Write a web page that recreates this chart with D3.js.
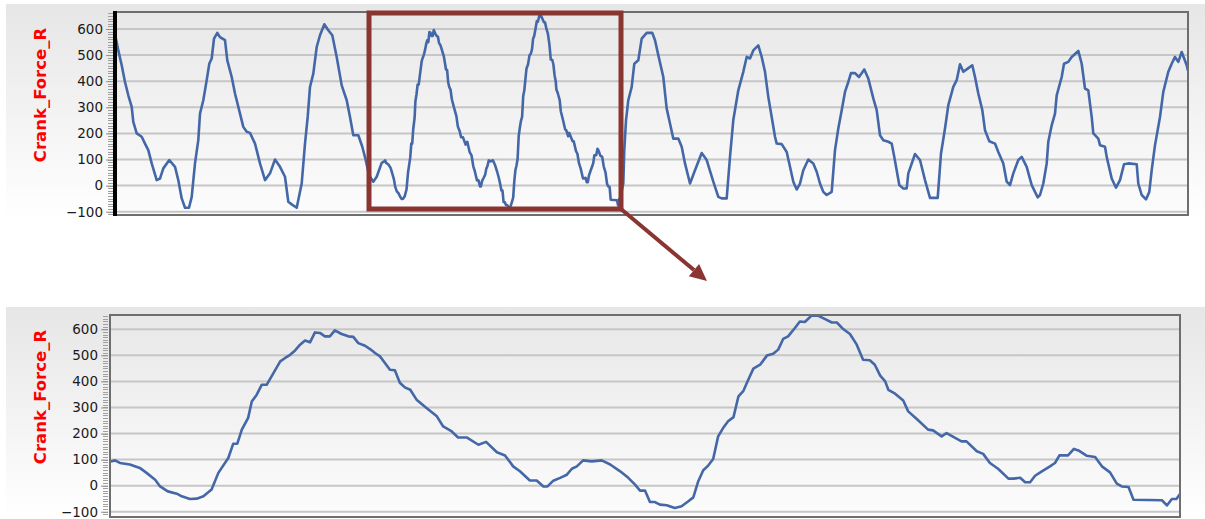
<!DOCTYPE html>
<html lang="en">
<head>
    <meta charset="UTF-8">
    <title>Crank_Force_R</title>
    <style>
        body { margin: 0; background: #fff; }
        svg { display: block; }
    </style>
</head>
<body>
    <svg width="1205" height="519"></svg>
    <script src="https://d3js.org/d3.v7.min.js"></script>
    <script>

        // sample positions / force values (outside the zoomed window)
        let topTime = [1, 3.3, 6.7, 10, 13.3, 16.7, 18.3, 21.7, 26.7, 30, 33.3, 36.7, 41.7, 45, 48.3, 54.3, 60, 63.3, 66.7, 70, 74, 76.7, 80, 83.3, 85, 88.3, 91.7, 94.3, 96.7, 99, 102.3, 105, 110, 112.3, 116.7, 120, 125, 128.3, 131.7, 135, 140, 145, 150, 155, 160, 165, 170, 173.3, 176.7, 181.7, 186.7, 190, 192.7, 195, 198.3, 201.7, 205, 209.3, 213.3, 217.3, 221.7, 226.7, 231.7, 235, 238.3, 243.3, 247.3, 250.7, 254, 258.3, 261.7, 266.7,
            508.3, 509.3, 511, 513.3, 516.7, 519.3, 523.3, 526.7, 531.7, 537.3, 540, 543.3, 548.3, 551.7, 555, 558.3, 563.3, 566.7, 570, 575, 580, 586.7, 591.7, 598.3, 603.3, 606.7, 611.7, 615, 618.3, 623.3, 628.3, 631.7, 635, 638.3, 643.3, 646.7, 650, 653.3, 656.7, 660, 661.7, 666.7, 671.7, 675, 678.3, 681.7, 685, 688.3, 693.3, 698.3, 701.7, 705, 708.3, 711.7, 716.7, 720, 723.3, 726.7, 730, 733.3, 736, 740, 744, 749.3, 753.3, 758.3, 761.7, 765, 768.3, 773.3, 776.7, 779.3, 784.3, 788.3, 791.7, 793.3, 800, 805, 810, 815, 822.7, 826, 830, 833.3, 838.3, 841.7, 845, 848.3, 852.7, 857.3, 860, 863.3, 867.3, 870, 874.3, 880, 883.3, 888.3, 891.7, 895, 898.3, 903.3, 906.7, 911.7, 916.7, 922.7, 925, 928.3, 931.7, 933.3, 936.7, 940, 941.7, 946.7, 949, 953.3, 956.7, 963.3, 966.7, 970, 973.3, 976.7, 978.3, 983.3, 985, 990, 991.7, 996.7, 1001, 1005, 1009, 1013.3, 1021.7, 1023.3, 1026.7, 1031, 1034.3, 1036.7, 1040, 1045, 1048.3, 1053.3, 1056.7, 1060, 1063.3, 1066.7, 1071.7, 1073];
        let topForce = [563, 518, 461, 397, 346, 302, 244, 200, 187, 161, 136, 85, 21, 27, 66, 98, 72, 21, -49, -85, -85, -43, 85, 174, 276, 327, 404, 467, 487, 563, 585, 569, 557, 480, 416, 353, 276, 225, 206, 202, 161, 85, 21, 47, 100, 72, 34, -62, -72, -85, 8, 161, 263, 378, 429, 531, 576, 618, 595, 576, 493, 384, 327, 263, 193, 193, 149, 98, 40, 15, 34, 87,
            8, 136, 250, 327, 378, 467, 480, 563, 585, 585, 557, 500, 416, 295, 238, 180, 180, 149, 85, 8, 59, 125, 98, 15, -43, -49, -49, 110, 251, 365, 436, 493, 487, 518, 537, 493, 436, 340, 263, 187, 161, 159, 129, 72, 15, -15, 8, 59, 100, 85, 53, 8, -24, -36, -24, 136, 219, 289, 359, 397, 431, 431, 416, 445, 410, 334, 289, 193, 174, 168, 161, 110, 2, -11, -11, 47, 121, 98, 21, -47, -47, 123, 219, 308, 378, 404, 465, 436, 448, 461, 416, 353, 289, 212, 170, 161, 129, 85, 15, 2, 47, 98, 110, 72, 2, -45, -36, 8, 85, 168, 231, 276, 346, 416, 467, 474, 493, 516, 467, 372, 365, 263, 200, 180, 155, 149, 110, 27, -8, 21, 82, 85, 82, 8, -36, -53, -24, 59, 155, 263, 359, 436, 467, 493, 474, 512, 461, 440];

        // detailed window (lower chart), same sample units
        let zoomTime = [269.2, 270.1, 271.2, 273.4, 275.6, 277.1, 279.0, 280.1, 281.8, 283.8, 284.9, 286.7, 288.2, 289.7, 291.5, 293.0, 295.2, 296.3, 297.2, 298.2, 299.6, 300.4, 301.5, 302.6, 303.7, 305.2, 306.7, 307.8, 308.9, 310.0, 311.1, 312.2, 313.3, 314.4, 315.5, 316.6, 317.7, 318.8, 320.3, 321.8, 322.9, 324.0, 325.5, 326.6, 327.7, 328.8, 329.9, 331.0, 332.1, 333.2, 334.3, 335.5, 336.9, 339.1, 341.4, 342.8, 344.7, 346.1, 348.0, 350.6, 352.3, 354.7, 356.5, 358.3, 359.8, 362.0, 363.5, 365.0, 365.9, 367.2, 368.7, 370.2, 371.3, 372.4, 373.8, 375.7, 377.9, 379.8, 382.0, 383.8, 385.3, 386.4, 387.5, 388.6, 389.7, 390.8, 392.3, 394.1, 395.6, 397.1, 398.2, 399.3, 400.4, 401.5, 402.6, 403.7, 404.8, 405.9, 407.1, 408.2, 409.3, 410.4, 411.5, 413.0, 414.5, 415.9, 417.0, 418.1, 419.2, 420.7, 421.8, 422.9, 424.4, 425.9, 427.4, 428.9, 430.0, 431.4, 432.9, 434.4, 435.8, 437.3, 438.4, 439.6, 440.7, 441.4, 442.9, 444.7, 445.8, 447.7, 450.2, 451.3, 453.2, 454.3, 456.2, 457.6, 458.7, 461.0, 462.4, 463.9, 465.7, 468.0, 469.1, 470.6, 471.7, 472.8, 473.9, 475.4, 477.2, 478.3, 479.3, 481.2, 482.5, 483.5, 485.3, 487.2, 488.7, 490.5, 492.0, 493.1, 494.6, 495.7, 502.0, 503.1, 504.2, 505.2, 506.0];
        let zoomForce = [93, 97, 87, 81, 68, 49, 23, -3, -22, -31, -41, -51, -50, -41, -15, 49, 106, 161, 161, 215, 260, 323, 349, 387, 387, 432, 477, 490, 502, 519, 541, 557, 550, 588, 586, 573, 573, 596, 582, 573, 571, 547, 537, 524, 509, 496, 471, 445, 443, 395, 377, 368, 330, 298, 266, 227, 208, 185, 185, 157, 168, 128, 116, 74, 55, 20, 20, -3, -3, 19, 30, 42, 65, 74, 97, 93, 97, 81, 55, 30, 4, -19, -19, -63, -63, -73, -75, -86, -79, -60, -45, 17, 59, 77, 102, 189, 221, 247, 263, 343, 364, 407, 449, 464, 499, 506, 522, 563, 573, 605, 630, 628, 653, 652, 639, 626, 626, 601, 582, 541, 483, 481, 464, 422, 400, 368, 353, 327, 285, 256, 215, 212, 189, 202, 183, 170, 170, 132, 122, 87, 65, 27, 27, 30, 13, 13, 38, 55, 74, 87, 116, 116, 141, 135, 115, 110, 74, 51, 8, -3, -5, -54, -56, -76, -51, -51, -32];

        let yTicks = [-100, 0, 100, 200, 300, 400, 500, 600];
        let yLabel = "Crank_Force_R";
        let fullRange = [0, 1073];
        let zoomRange = [269, 506];
        let boxRange = [254, 506];

        let svg = d3.select("svg");
        let defs = svg.append("defs");

        let g1 = defs.append("linearGradient").attr("id", "panelGrad").attr("x1", 0).attr("y1", 0).attr("x2", 0).attr("y2", 1);
        g1.append("stop").attr("offset", "0%").attr("stop-color", "#e6e6e6");
        g1.append("stop").attr("offset", "100%").attr("stop-color", "#ffffff");
        let g2 = defs.append("linearGradient").attr("id", "plotGrad").attr("x1", 0).attr("y1", 0).attr("x2", 0).attr("y2", 1);
        g2.append("stop").attr("offset", "0%").attr("stop-color", "#e8e8e8");
        g2.append("stop").attr("offset", "100%").attr("stop-color", "#fcfcfc");

        let overviewSeries = topTime.map((t, i) => ({ t: t, v: topForce[i] }))
            .concat(zoomTime.map((t, i) => ({ t: t, v: zoomForce[i] })))
            .sort((a, b) => a.t - b.t);
        let zoomSeries = zoomTime.map((t, i) => ({ t: t, v: zoomForce[i] }));

        function panel(opt) {
            let x = d3.scaleLinear().domain(opt.domain).range([opt.left, opt.right]);
            let y = d3.scaleLinear().domain([-100, 600]).range([opt.y0, opt.y600]);

            svg.append("rect")
                .attr("x", 6).attr("y", opt.panelTop)
                .attr("width", 1199).attr("height", opt.panelBottom - opt.panelTop)
                .attr("fill", "url(#panelGrad)");

            svg.append("rect")
                .attr("x", opt.left).attr("y", opt.top)
                .attr("width", opt.right - opt.left).attr("height", opt.bottom - opt.top)
                .attr("fill", "url(#plotGrad)");

            // grid
            svg.append("g").selectAll("line").data(yTicks).join("line")
                .attr("x1", opt.left).attr("x2", opt.right)
                .attr("y1", d => y(d)).attr("y2", d => y(d))
                .attr("stroke", "#c6c6c6").attr("stroke-width", 2);

            // minor ticks
            let minor = d3.range(-110, 661, 10).filter(v => y(v) > opt.top && y(v) < opt.bottom);
            svg.append("g").selectAll("line").data(minor).join("line")
                .attr("x1", opt.left - 7).attr("x2", opt.left - 2)
                .attr("y1", d => Math.round(y(d)) + 0.5).attr("y2", d => Math.round(y(d)) + 0.5)
                .attr("stroke", "#a0a0a0").attr("stroke-width", 1);

            let axis = svg.append("g").attr("transform", `translate(${opt.left - 2},0)`)
                .call(d3.axisLeft(y).tickValues(yTicks).tickSize(7).tickPadding(3));
            axis.select(".domain").remove();
            axis.selectAll(".tick line").attr("stroke", "#909090");
            axis.selectAll("text")
                .attr("font-family", "DejaVu Sans, Verdana, sans-serif")
                .attr("font-size", 13.5).attr("fill", "#1a1a1a");

            let clipId = "clip" + opt.top;
            defs.append("clipPath").attr("id", clipId).append("rect")
                .attr("x", opt.left).attr("y", opt.top)
                .attr("width", opt.right - opt.left).attr("height", opt.bottom - opt.top);

            let line = d3.line().x(d => x(d.t)).y(d => y(d.v));
            svg.append("path")
                .datum(opt.series)
                .attr("clip-path", `url(#${clipId})`)
                .attr("d", line)
                .attr("fill", "none")
                .attr("stroke", "#4467a8")
                .attr("stroke-width", 2.6)
                .attr("stroke-linejoin", "round");

            // frame
            svg.append("path")
                .attr("d", `M${opt.left},${opt.top}H${opt.right}V${opt.bottom}H${opt.left}`)
                .attr("fill", "none").attr("stroke", "#6e6e6e").attr("stroke-width", 2);
            svg.append("line")
                .attr("x1", opt.left).attr("x2", opt.left)
                .attr("y1", opt.top - 1).attr("y2", opt.bottom + 1)
                .attr("stroke", opt.leftColor).attr("stroke-width", opt.leftWidth);

            svg.append("text")
                .attr("transform", `translate(${opt.labelX},${opt.labelY}) rotate(-90)`)
                .attr("text-anchor", "middle")
                .attr("font-family", "DejaVu Sans, Verdana, sans-serif")
                .attr("font-size", 16.5).attr("font-weight", "bold")
                .attr("fill", "#ff0000")
                .text(yLabel);

            return { x: x, y: y };
        }

        let overview = panel({
            domain: fullRange, series: overviewSeries,
            left: 115, right: 1188, top: 12, bottom: 215,
            y600: 29, y0: 211.7,
            panelTop: 4, panelBottom: 219,
            leftColor: "#000", leftWidth: 4,
            labelX: 46, labelY: 95
        });

        panel({
            domain: zoomRange, series: zoomSeries,
            left: 110, right: 1180, top: 315, bottom: 517,
            y600: 329.3, y0: 511.7,
            panelTop: 307, panelBottom: 519,
            leftColor: "#6e6e6e", leftWidth: 2,
            labelX: 46, labelY: 397
        });

        // zoom window box + arrow
        let bx0 = overview.x(boxRange[0]), bx1 = overview.x(boxRange[1]);
        svg.append("rect")
            .attr("x", bx0).attr("y", 13)
            .attr("width", bx1 - bx0).attr("height", 196)
            .attr("fill", "none").attr("stroke", "#8a3532").attr("stroke-width", 5);

        let ax0 = bx1, ay0 = 209, ax1 = 707, ay1 = 281;
        let ang = Math.atan2(ay1 - ay0, ax1 - ax0);
        let hl = 17, hw = 8;
        let bxh = ax1 - hl * Math.cos(ang), byh = ay1 - hl * Math.sin(ang);
        svg.append("line")
            .attr("x1", ax0).attr("y1", ay0).attr("x2", bxh).attr("y2", byh)
            .attr("stroke", "#8a3532").attr("stroke-width", 4);
        svg.append("path")
            .attr("d", `M${ax1},${ay1}L${bxh - hw * Math.sin(ang)},${byh + hw * Math.cos(ang)}L${bxh + hw * Math.sin(ang)},${byh - hw * Math.cos(ang)}Z`)
            .attr("fill", "#8a3532");

    </script>
</body>
</html>
